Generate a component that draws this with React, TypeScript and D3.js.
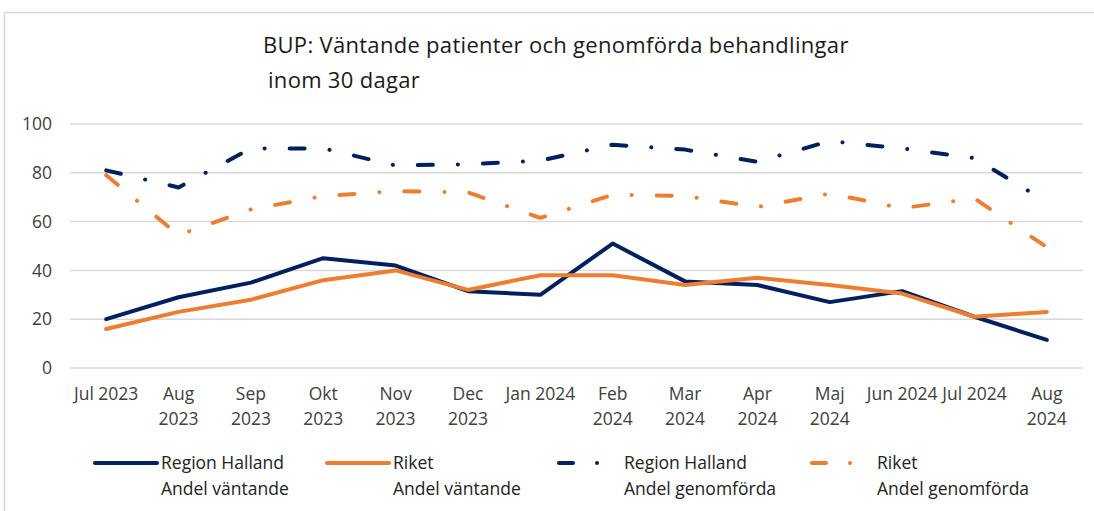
import React from "react";
import * as d3 from "d3";

// månader (x-axel), radbrytning som i originalet
const months = [
  "Jul 2023", "Aug\n2023", "Sep\n2023", "Okt\n2023", "Nov\n2023", "Dec\n2023", "Jan 2024",
  "Feb\n2024", "Mar\n2024", "Apr\n2024", "Maj\n2024", "Jun 2024", "Jul 2024", "Aug\n2024",
];

const hallandVantande = [20, 29, 35, 45, 42, 31.5, 30, 51, 35.5, 34, 27, 31.5, 21, 11.5];
const riketVantande = [16, 23, 28, 36, 40, 32, 38, 38, 34, 37, 34, 30.5, 21, 23];
const hallandGenomforda = [81, 74, 90, 90, 83, 83.5, 85, 91.5, 89.5, 84.5, 93, 90, 86, 68];
const riketGenomforda = [79, 54.5, 65, 70.5, 72.5, 72, 61.5, 71, 70.5, 66, 71.5, 65.5, 69.5, 49.5];

const yTicks = [0, 20, 40, 60, 80, 100];

const NAVY = "#002060";
const ORANGE = "#ED7D31";
const DASHDOT = "15 25 0.1 25";
const FONT = "'Open Sans', sans-serif";

const series = [
  { name: ["Region Halland", "Andel väntande"], values: hallandVantande, color: NAVY, dash: null },
  { name: ["Riket", "Andel väntande"], values: riketVantande, color: ORANGE, dash: null },
  { name: ["Region Halland", "Andel genomförda"], values: hallandGenomforda, color: NAVY, dash: DASHDOT },
  { name: ["Riket", "Andel genomförda"], values: riketGenomforda, color: ORANGE, dash: DASHDOT },
];

export default function App() {
  const width = 1094;
  const height = 511;

  const x = d3.scaleBand<string>().domain(months).range([70, 1083]);
  const y = d3.scaleLinear().domain([0, 100]).range([368, 124]);
  const cx = (m: string) => (x(m) as number) + x.bandwidth() / 2;

  const line = d3
    .line<number>()
    .x((_, i) => cx(months[i]))
    .y((d) => y(d));

  // legend positions (sample start x)
  const legendX = [95, 327, 555, 808];

  return (
    <svg
      width={width}
      height={height}
      style={{ position: "absolute", left: 0, top: 0, background: "#fff" }}
      fontFamily={FONT}
    >
      <rect x={4.5} y={12.5} width={1200} height={600} fill="#fff" stroke="#d9d9d9" strokeWidth={1.5} />

      <text x={263} y={53} fontSize={22} letterSpacing={0.3} fill="#1a1a1a">
        BUP: Väntande patienter och genomförda behandlingar
      </text>
      <text x={268} y={88} fontSize={22} letterSpacing={0.3} fill="#1a1a1a">
        inom 30 dagar
      </text>

      {yTicks.map((t) => (
        <g key={t}>
          <line x1={70} x2={1083} y1={y(t)} y2={y(t)} stroke="#d9d9d9" strokeWidth={1.5} />
          <text x={52} y={y(t)} dy="0.35em" textAnchor="end" fontSize={17.5} fill="#404040">
            {t}
          </text>
        </g>
      ))}

      {months.map((m) => (
        <text key={m} x={cx(m)} y={400} textAnchor="middle" fontSize={17.5} fill="#404040">
          {m.split("\n").map((part, j) => (
            <tspan key={j} x={cx(m)} dy={j === 0 ? 0 : 25}>
              {part}
            </tspan>
          ))}
        </text>
      ))}

      {series.map((s, i) => (
        <path
          key={i}
          d={line(s.values) || ""}
          fill="none"
          stroke={s.color}
          strokeWidth={4}
          strokeLinecap="round"
          strokeLinejoin="round"
          strokeDasharray={s.dash || undefined}
        />
      ))}

      {series.map((s, i) => {
        const lx = legendX[i];
        return (
          <g key={i}>
            {s.dash ? (
              <>
                <line x1={lx + 4} x2={lx + 18} y1={463} y2={463} stroke={s.color} strokeWidth={4} strokeLinecap="round" />
                <circle cx={lx + 42} cy={463} r={2} fill={s.color} />
              </>
            ) : (
              <line x1={lx} x2={lx + 62} y1={463} y2={463} stroke={s.color} strokeWidth={4} strokeLinecap="round" />
            )}
            <text x={lx + (s.dash ? 69 : 66)} y={469} fontSize={17.5} fill="#222">
              {s.name[0]}
            </text>
            <text x={lx + (s.dash ? 69 : 66)} y={495} fontSize={17.5} fill="#222">
              {s.name[1]}
            </text>
          </g>
        );
      })}
    </svg>
  );
}
